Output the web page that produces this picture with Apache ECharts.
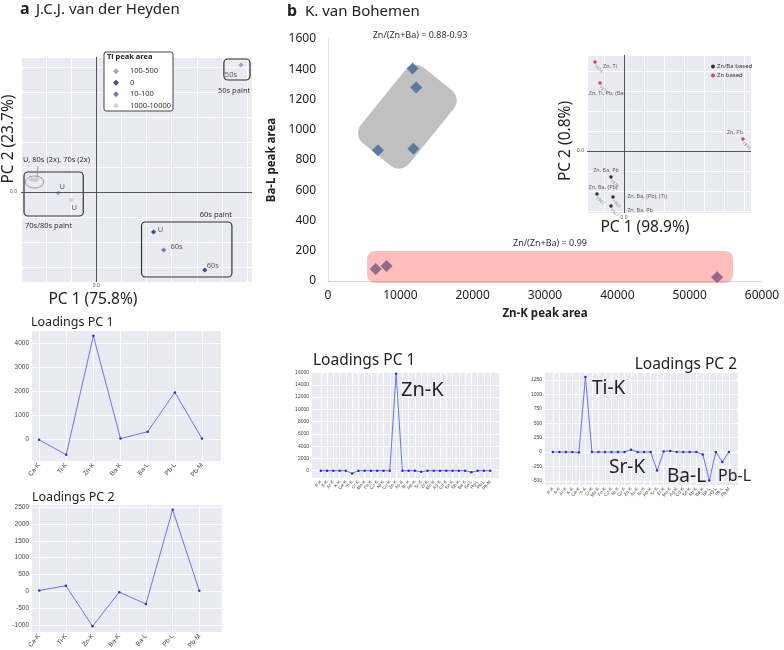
<!DOCTYPE html>
<html>
<head>
<meta charset="utf-8">
<script src="https://cdn.jsdelivr.net/npm/echarts@6/dist/echarts.min.js"></script>
<style>
  html, body { margin: 0; background: #fff; }
  #chart { width: 784px; height: 650px; }
</style>
</head>
<body>
<div id="chart"></div>
<script>
// panel a – PCA scores (arbitrary units, only the 0.0 origin is marked)
const tiGroups = ['100-500', '0', '10-100', '1000-10000'];
const aScoreX = [2.88, -1.30, -1.26, -1.22, -1.18, -0.76, -0.50, 1.14, 1.34, 2.16];
const aScoreY = [2.54, 0.25, 0.24, 0.23, 0.25, -0.02, -0.16, -0.80, -1.16, -1.56];
const aScoreGroup = [0, 3, 3, 3, 3, 0, 3, 1, 2, 1];
const aScoreLabel = ['50s', '', '', '', '', 'U', 'U', 'U', '60s', '60s'];
// boxes drawn round the groups: [x1, y1, x2, y2] in score units
const aBoxes = [[2.54, 2.66, 3.06, 2.24], [-1.44, 0.40, -0.26, -0.48], [0.90, -0.60, 2.70, -1.70]];
const aEllipse = [[-1.23, 0.20, 0.18, 0.12]];

// panel b – peak areas
const znK = [11700, 12200, 6900, 11800, 6600, 8100, 53800];
const baL = [1405, 1280, 865, 875, 80, 100, 25];
const grayRegion = [[10970, 1086]];
const pinkRegion = [[5400, 199, 56000, -13]];

// panel b inset – PCA scores
const insetNames = ['Zn/Ba based', 'Zn based'];
const insetX = [-1.45, -1.20, 5.95, -0.65, -1.35, -0.55, -0.65];
const insetY = [4.45, 3.40, 0.60, -1.30, -2.15, -2.30, -2.75];
const insetType = [1, 1, 1, 0, 0, 0, 0];
const insetLabel = ['Zn, Ti', 'Zn, Ti, Pb, (Ba)', 'Zn, Pb', 'Zn, Ba, Pb', 'Zn, Ba, (Pb)', 'Zn, Ba, (Pb), (Ti)', 'Zn, Ba, Pb'];
const insetYear = ['1974', '1979', '1976', '1975', '1967', '1966', '1967'];

// loadings
const aElems = ['Ca-K', 'Ti-K', 'Zn-K', 'Ba-K', 'Ba-L', 'Pb-L', 'Pb-M'];
const aLoad1 = [-20, -640, 4300, 30, 320, 1950, 30];
const aLoad2 = [30, 170, -1030, -20, -370, 2420, 20];
const aTicks1 = [0, 1000, 2000, 3000, 4000];
const aTicks2 = [-1000, -500, 0, 500, 1000, 1500, 2000, 2500];

const bElems = ['P-K', 'S-K', 'Ar-K', 'K-K', 'Ca-K', 'Ti-K', 'Cr-K', 'Mn-K', 'Fe-K', 'Co-K', 'Ni-K', 'Cu-K', 'Zn-K', 'As-K',
  'Br-K', 'Rb-K', 'Sr-K', 'Zr-K', 'Mo-K', 'Ag-K', 'Cd-K', 'Sn-K', 'Sb-K', 'Ba-K', 'Ba-L', 'Hg-L', 'Pb-L', 'Pb-M'];
const bLoad1 = [0, 0, 0, 0, 0, -450, 0, 0, 0, 0, 0, 0, 15800, 0, 0, 0, -200, 0, 0, 0, 0, 0, 0, 0, -250, 0, 0, 0];
const bLoad2 = [0, 0, 0, 0, -5, 1300, 0, 0, 0, 0, 0, 0, 40, 0, 0, 0, -320, 10, 20, 0, 0, 0, 0, -40, -490, 0, -170, 0];
const bTicks1 = [0, 2000, 4000, 6000, 8000, 10000, 12000, 14000, 16000];
const bTicks2 = [-500, -250, 0, 250, 500, 750, 1000, 1250];

const FONT = 'Noto Sans';
const TICKFONT = 'Liberation Sans';
const BG = '#eaeaf2';
const tiColors = ['#8f8cb9', '#1d1a78', '#5d5a98', '#c9c7d6'];

// label offsets (px from the point) for the scores
const aLabelOffset = [[-10, 10], [0, 0], [0, 0], [0, 0], [0, 0], [4, -6], [3, 8], [7, -2], [13, -3], [8, -4]];
const insetLabelOffset = [[15, 4], [7, 10], [-8, -7], [-5, -7], [6, -7], [34, -1], [29, 4]];

const chart = echarts.init(document.getElementById('chart'));

const zeroOnly = v => (Math.abs(v) < 1e-9 ? '0.0' : '');
const plain = v => String(v);

function scoreAxis(gi, min, max, margin) {
  return {
    type: 'value', gridIndex: gi, min, max, splitNumber: 9,
    axisLine: { show: false }, axisTick: { show: false },
    axisLabel: { formatter: zeroOnly, fontSize: 5, color: '#555', margin, fontFamily: TICKFONT },
    splitLine: { show: true, lineStyle: { color: '#fff', width: 1 } }
  };
}

function loadX(gi, names, min, max, fs) {
  const idx = names.map((_, i) => i);
  return {
    type: 'value', gridIndex: gi, min, max,
    axisLine: { show: false },
    axisTick: { show: false, customValues: idx },
    axisLabel: { customValues: idx, formatter: v => names[Math.round(v)] || '', rotate: 50, fontSize: fs, color: '#444', margin: 3, fontFamily: TICKFONT },
    splitLine: { show: true, lineStyle: { color: '#fff', width: 1 } }
  };
}

function loadY(gi, min, max, fs, ticks) {
  return {
    type: 'value', gridIndex: gi, min, max,
    axisLine: { show: false },
    axisTick: { show: false, customValues: ticks },
    axisLabel: { customValues: ticks, formatter: plain, fontSize: fs, color: '#444', margin: 3, fontFamily: TICKFONT },
    splitLine: { show: true, lineStyle: { color: '#fff', width: 1 } }
  };
}

function loadSeries(xi, values) {
  return {
    type: 'line', xAxisIndex: xi, yAxisIndex: xi,
    data: values.map((v, i) => [i, v]),
    symbol: 'circle', symbolSize: 2.5, showSymbol: true,
    lineStyle: { color: '#7070ee', width: 1 },
    itemStyle: { color: '#2a2ad0' },
    silent: true
  };
}

const zeroLines = {
  silent: true, symbol: ['none', 'none'], label: { show: false },
  lineStyle: { color: '#555', width: 1, type: 'solid' },
  data: [{ xAxis: 0 }, { yAxis: 0 }]
};

function txt(x, y, text, size, extra) {
  return Object.assign({
    type: 'text', x, y, z: 20,
    style: Object.assign({ text, fontSize: size, fontFamily: FONT, fill: '#222', align: 'left', verticalAlign: 'middle' }, (extra && extra.style) || {})
  }, extra ? { rotation: extra.rotation || 0 } : {});
}

const gridBase = { outerBoundsMode: 'none', containLabel: false };
const seaGrid = { show: true, backgroundColor: BG, borderWidth: 0 };

const option = {
  animation: false,
  grid: [
    Object.assign({ left: 21, top: 57, width: 231, height: 225 }, gridBase, seaGrid),
    Object.assign({ left: 328, top: 39, width: 434, height: 242 }, gridBase),
    Object.assign({ left: 587, top: 55, width: 164, height: 158 }, gridBase, seaGrid),
    Object.assign({ left: 32, top: 331, width: 189, height: 130 }, gridBase, seaGrid),
    Object.assign({ left: 32, top: 505, width: 190, height: 127 }, gridBase, seaGrid),
    Object.assign({ left: 312, top: 372, width: 187, height: 106 }, gridBase, seaGrid),
    Object.assign({ left: 545, top: 373, width: 193, height: 112 }, gridBase, seaGrid)
  ],
  xAxis: [
    scoreAxis(0, -1.5, 3.1, 1),
    {
      type: 'value', gridIndex: 1, min: 0, max: 60000, interval: 10000,
      name: 'Zn-K peak area', nameLocation: 'middle', nameGap: 27,
      nameTextStyle: { fontSize: 11.5, fontWeight: 'bold', color: '#222', fontFamily: FONT },
      axisLine: { lineStyle: { color: '#d9d9d9' } }, axisTick: { show: false },
      axisLabel: { formatter: plain, fontSize: 12, color: '#222', fontFamily: FONT, margin: 9 },
      splitLine: { show: false }
    },
    scoreAxis(2, -1.85, 6.35, 2),
    loadX(3, aElems, -0.26, 6.7, 6.5),
    loadX(4, aElems, -0.27, 6.85, 6.5),
    loadX(5, bElems, -1.4, 28.4, 4.5),
    loadX(6, bElems, -1.2, 28.4, 4.5)
  ],
  yAxis: [
    scoreAxis(0, -1.8, 2.7, 4),
    {
      type: 'value', gridIndex: 1, min: 0, max: 1600, interval: 200,
      name: 'Ba-L peak area', nameLocation: 'middle', nameGap: 30,
      nameTextStyle: { fontSize: 11.5, fontWeight: 'bold', color: '#222', fontFamily: FONT },
      axisLine: { show: true, lineStyle: { color: '#e2e2e2' } }, axisTick: { show: false },
      axisLabel: { formatter: plain, fontSize: 12, color: '#222', fontFamily: FONT, margin: 12 },
      splitLine: { show: false }
    },
    scoreAxis(2, -3.1, 4.8, 3),
    loadY(3, -900, 4500, 6.5, aTicks1),
    loadY(4, -1200, 2560, 6.5, aTicks2),
    loadY(5, -1200, 16100, 5, bTicks1),
    loadY(6, -570, 1370, 5, bTicks2)
  ],
  legend: [
    {
      data: tiGroups, left: 108, top: 62, orient: 'vertical', icon: 'diamond',
      itemWidth: 6, itemHeight: 6, itemGap: 3, selectedMode: false, z: 6,
      textStyle: { fontSize: 7.5, color: '#333', fontFamily: FONT, padding: [0, 0, 0, 6], lineHeight: 8.5 }
    },
    {
      data: insetNames, left: 706, top: 58, orient: 'vertical', icon: 'circle',
      itemWidth: 4, itemHeight: 4, itemGap: 2, selectedMode: false, z: 6,
      textStyle: { fontSize: 6, color: '#333', fontFamily: FONT, padding: [0, 0, 0, -3], lineHeight: 7 }
    }
  ],
  series: [
    // panel a: group boxes + zero lines
    {
      type: 'custom', xAxisIndex: 0, yAxisIndex: 0, z: 1, silent: true,
      data: aBoxes,
      renderItem: (params, api) => {
        const p1 = api.coord([api.value(0), api.value(1)]);
        const p2 = api.coord([api.value(2), api.value(3)]);
        return {
          type: 'rect',
          shape: { x: p1[0], y: p1[1], width: p2[0] - p1[0], height: p2[1] - p1[1], r: 4 },
          style: { fill: 'none', stroke: '#333', lineWidth: 1.2 }
        };
      },
      markLine: zeroLines
    },
    {
      type: 'custom', xAxisIndex: 0, yAxisIndex: 0, z: 1, silent: true,
      data: aEllipse,
      renderItem: (params, api) => {
        const c = api.coord([api.value(0), api.value(1)]);
        const s = api.size([api.value(2), api.value(3)]);
        return {
          type: 'group',
          children: [
            { type: 'ellipse', shape: { cx: c[0], cy: c[1], rx: s[0], ry: s[1] }, style: { fill: 'none', stroke: '#9a9a9a', lineWidth: 1 } },
            { type: 'line', shape: { x1: c[0] + 2.5, y1: c[1] - 4, x2: c[0] + 3.5, y2: c[1] - 16 }, style: { stroke: '#9a9a9a', lineWidth: 1 } }
          ]
        };
      }
    },
    ...tiGroups.map((g, gi) => ({
      name: g, type: 'scatter', xAxisIndex: 0, yAxisIndex: 0, z: 3,
      symbol: 'diamond', symbolSize: 5,
      itemStyle: { color: tiColors[gi] },
      label: { show: true, position: 'inside', fontSize: 7.5, color: '#333', fontFamily: FONT },
      data: aScoreX.map((x, i) => i).filter(i => aScoreGroup[i] === gi).map(i => ({
        value: [aScoreX[i], aScoreY[i]],
        label: { offset: aLabelOffset[i], formatter: aScoreLabel[i] || '' }
      }))
    })),

    // panel b: regions and points
    {
      type: 'custom', xAxisIndex: 1, yAxisIndex: 1, z: 1, silent: true,
      data: grayRegion,
      renderItem: (params, api) => {
        const c = api.coord([api.value(0), api.value(1)]);
        return {
          type: 'rect', x: c[0], y: c[1], rotation: -0.68,
          shape: { x: -31, y: -48.5, width: 62, height: 97, r: 13 },
          style: { fill: '#c0c0c0' }
        };
      }
    },
    {
      type: 'scatter', xAxisIndex: 1, yAxisIndex: 1, z: 2,
      symbol: 'diamond', symbolSize: 12,
      itemStyle: { color: '#41689a' },
      data: znK.map((x, i) => [x, baL[i]])
    },
    {
      type: 'custom', xAxisIndex: 1, yAxisIndex: 1, z: 3, silent: true,
      data: pinkRegion,
      renderItem: (params, api) => {
        const p1 = api.coord([api.value(0), api.value(1)]);
        const p2 = api.coord([api.value(2), api.value(3)]);
        return {
          type: 'rect',
          shape: { x: p1[0], y: p1[1], width: p2[0] - p1[0], height: p2[1] - p1[1], r: 8 },
          style: { fill: 'rgba(255,40,40,0.3)' }
        };
      }
    },

    // inset: scores
    ...insetNames.map((n, ti) => ({
      name: n, type: 'scatter', xAxisIndex: 2, yAxisIndex: 2, z: 4,
      symbol: 'circle', symbolSize: 3.5,
      itemStyle: { color: ti === 0 ? '#000' : '#e8141c' },
      label: { show: true, position: 'inside', fontSize: 5.5, color: '#333', fontFamily: FONT },
      data: insetX.map((x, i) => i).filter(i => insetType[i] === ti).map(i => ({
        value: [insetX[i], insetY[i]],
        label: { offset: insetLabelOffset[i], formatter: insetLabel[i] }
      })),
      markLine: ti === 0 ? zeroLines : undefined
    })),
    {
      type: 'scatter', xAxisIndex: 2, yAxisIndex: 2, z: 4, silent: true,
      symbolSize: 0,
      label: { show: true, position: 'inside', offset: [7, 3], rotate: -40, fontSize: 4.5, color: '#777', fontFamily: FONT, formatter: p => insetYear[p.dataIndex] },
      data: insetX.map((x, i) => [x, insetY[i]])
    },

    // loadings
    loadSeries(3, aLoad1),
    loadSeries(4, aLoad2),
    loadSeries(5, bLoad1),
    loadSeries(6, bLoad2)
  ],
  graphic: [
    { type: 'rect', z: 3, shape: { x: 104, y: 52, width: 69, height: 59, r: 2 }, style: { fill: '#fff', stroke: '#444', lineWidth: 1 } },
    txt(20, 9, 'a', 16, { style: { fontWeight: 'bold' } }),
    txt(36, 10, 'J.C.J. van der Heyden', 15),
    txt(287, 11, 'b', 16, { style: { fontWeight: 'bold' } }),
    txt(305, 12, 'K. van Bohemen', 15),
    txt(107, 57, 'Ti peak area', 7.5, { style: { fontWeight: 'bold' } }),
    txt(23, 160, 'U, 80s (2x), 70s (2x)', 7.5, { style: { fill: '#333' } }),
    txt(25, 226, '70s/80s paint', 7.5, { style: { fill: '#333' } }),
    txt(218, 91, '50s paint', 7.5, { style: { fill: '#333' } }),
    txt(232, 215, '60s paint', 7.5, { style: { fill: '#333', align: 'right' } }),
    txt(9, 139, 'PC 2 (23.7%)', 15.5, { rotation: Math.PI / 2, style: { align: 'center' } }),
    txt(93, 300, 'PC 1 (75.8%)', 15.5, { style: { align: 'center' } }),
    txt(420, 35, 'Zn/(Zn+Ba) = 0.88-0.93', 9, { style: { align: 'center', fill: '#333' } }),
    txt(550, 243, 'Zn/(Zn+Ba) = 0.99', 9, { style: { align: 'center', fill: '#333' } }),
    txt(566, 141, 'PC 2 (0.8%)', 15.5, { rotation: Math.PI / 2, style: { align: 'center' } }),
    txt(645, 228, 'PC 1 (98.9%)', 15.5, { style: { align: 'center' } }),
    txt(31, 322, 'Loadings PC 1', 12.5),
    txt(32, 497, 'Loadings PC 2', 12.5),
    txt(313, 361, 'Loadings PC 1', 15.5),
    txt(737, 365, 'Loadings PC 2', 15.5, { style: { align: 'right' } }),
    txt(401, 390, 'Zn-K', 20),
    txt(592, 389, 'Ti-K', 19),
    txt(609, 468, 'Sr-K', 19),
    txt(667, 477, 'Ba-L', 19),
    txt(718, 476, 'Pb-L', 16)
  ]
};

chart.setOption(option);
window.addEventListener('resize', () => chart.resize());
</script>
</body>
</html>
